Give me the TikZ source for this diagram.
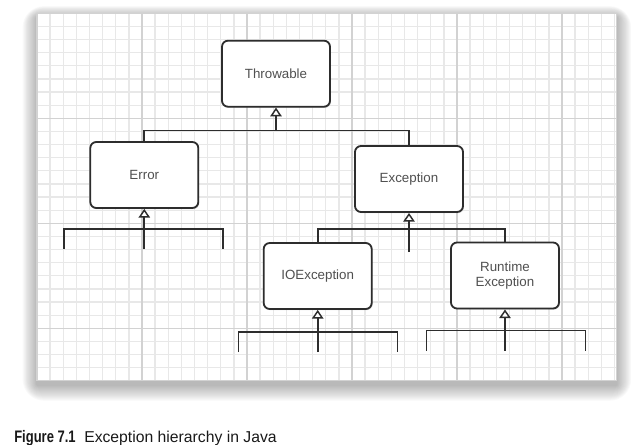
\documentclass[tikz,border=0pt]{standalone}
\usepackage{fontspec}
\setmainfont{Liberation Sans}
\newfontfamily\figfont[FakeStretch=0.78]{Liberation Sans}
\usepackage{tikz}
\usetikzlibrary{positioning,arrows.meta,shadows}
\definecolor{gridminor}{RGB}{232,232,232}
\definecolor{gridmajor}{RGB}{210,210,210}
\definecolor{boxline}{RGB}{45,45,45}
\definecolor{boxtext}{RGB}{80,80,80}
\tikzset{
    class box/.style={rectangle, rounded corners=4.5pt, draw=boxline, line width=1.35pt, fill=white, minimum width=81pt, minimum height=49.5pt, inner sep=0pt, align=center, text=boxtext, font=\fontsize{10}{11.3}\selectfont, drop shadow={opacity=0.3, shadow xshift=0.7pt, shadow yshift=-0.9pt}},
    tree line/.style={draw=boxline, line width=1.3pt},
    inherit arrow/.style={tree line, -{Triangle[fill=white, length=6.5pt, width=8.5pt, line width=1.1pt]}},
    grid minor/.style={draw=gridminor, line width=1pt},
    grid major/.style={draw=gridmajor, line width=1pt},
    panel shade/.style={fill=black, opacity=0.018}
}

\begin{document}
\begin{tikzpicture}[x=0.75pt, y=-0.75pt]
    \useasboundingbox (0,0) rectangle (631,445);

    % Paper panel with soft shadow
    \foreach \k in {1,...,16}
        \fill[panel shade, rounded corners=\k pt] (37-\k*0.9,13.3-\k*0.7+4) rectangle (616.8+\k*0.9,380.8+\k+4);
    \fill[white] (37,13.3) rectangle (616.8,380.8);

    % Grid paper
    \begin{scope}
        \clip (37,13.3) rectangle (616.8,380.8);
        \foreach \i in {0,...,44}
            \draw[grid minor] ({37+\i*13.125},13.3) -- ({37+\i*13.125},380.8);
        \foreach \j in {0,...,28}
            \draw[grid minor] (37,{13.3+\j*13.125}) -- (616.8,{13.3+\j*13.125});
        \foreach \i in {8,16,...,40}
            \draw[grid major] ({37+\i*13.125},13.3) -- ({37+\i*13.125},380.8);
        \foreach \j in {8,16,24}
            \draw[grid major] (37,{13.3+\j*13.125}) -- (616.8,{13.3+\j*13.125});
    \end{scope}
    \draw[grid major] (37,13.3) rectangle (616.8,380.8);

    % Classes
    \node[class box] (throwable) at (276,73.7) {Throwable};
    \node[class box] (error) at (144.3,175) {Error};
    \node[class box] (exception) at (409,179) {Exception};
    \node[class box] (ioexc) at (317.7,276) {IOException};
    \node[class box] (runtime) at (505,275.5) {Runtime\\Exception};

    % Throwable subclasses
    \coordinate (throwjoin) at (276,130.5);
    \draw[tree line] (error.north) |- (throwjoin) -| (exception.north);
    \draw[inherit arrow] (throwjoin) -- (throwable.south);

    % Error subclasses (open ends)
    \coordinate (errjoin) at (144.3,229);
    \coordinate (errleft) at (64.3,249);
    \coordinate (errmid) at (144.3,249);
    \coordinate (errright) at (222.7,249);
    \draw[tree line] (errleft) |- (errjoin) -| (errright);
    \draw[inherit arrow] (errmid) -- (error.south);

    % Exception subclasses
    \coordinate (excjoin) at (409,229.3);
    \coordinate (excend) at (409,252);
    \draw[tree line] (ioexc.north) |- (excjoin) -| (runtime.north);
    \draw[inherit arrow] (excend) -- (exception.south);

    % IOException subclasses (open ends)
    \coordinate (iojoin) at (317.7,332);
    \coordinate (ioleft) at (238.6,352);
    \coordinate (iomid) at (317.7,352);
    \coordinate (ioright) at (397.6,352);
    \draw[tree line] (ioleft) |- (iojoin) -| (ioright);
    \draw[inherit arrow] (iomid) -- (ioexc.south);

    % RuntimeException subclasses (open ends)
    \coordinate (rtjoin) at (505,330.5);
    \coordinate (rtleft) at (426.5,350.5);
    \coordinate (rtmid) at (505,350.5);
    \coordinate (rtright) at (585.5,350.5);
    \draw[tree line] (rtleft) |- (rtjoin) -| (rtright);
    \draw[inherit arrow] (rtmid) -- (runtime.south);

    % Caption
    \node[anchor=base west, inner sep=0pt, text=black!90, font={\figfont\bfseries\fontsize{12.5}{14}\selectfont}] (fignum) at (14,442) {Figure 7.1};
    \node[anchor=base west, inner sep=0pt, text=black!90, font=\fontsize{11.8}{14}\selectfont] (figtitle) at (84,442) {Exception hierarchy in Java};
\end{tikzpicture}
\end{document}
